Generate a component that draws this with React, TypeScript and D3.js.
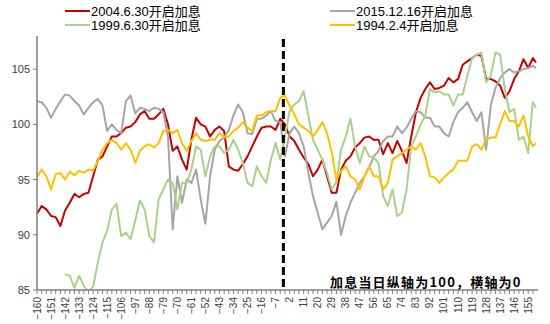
import React from "react";
import * as d3 from "d3";

// x categories: trading days relative to the hike (step 3) plus last day
const days: number[] = [...d3.range(-160, 159, 3), 160];
const tickDays: number[] = d3.range(-160, 159, 3);
const labelDays: number[] = d3.range(-160, 159, 9);
const yTicks: number[] = [85, 90, 95, 100, 105];
const hikeDay = -2;

const seriesNames = ["2004.6.30开启加息", "2015.12.16开启加息", "1999.6.30开启加息", "1994.2.4开启加息"];
const seriesColors = ["#C00000", "#A5A5A5", "#A9D18E", "#FFC000"];

const red2004: (number | null)[] = [
  91.9, 92.6, 92.3, 91.7, 91.6, 90.8, 92.2, 92.9, 93.7, 93.4, 93.7, 93.8, 95.3, 96.8, 97.1, 98.0, 98.9, 98.9, 99.2, 99.7, 99.8, 100.2,
  100.9, 101.2, 100.5, 100.5, 100.9, 101.4, 100.0, 97.6, 98.0, 96.8, 95.9, 98.6, 100.6, 100.0, 99.8, 98.9, 99.5, 99.8, 99.4, 96.2, 95.9,
  95.8, 96.4, 97.1, 98.0, 98.9, 99.7, 99.8, 99.8, 99.5, 100.5, 100.0, 98.9, 98.5, 97.7, 97.0, 96.4, 95.3, 95.9, 96.8, 95.3, 93.8, 93.8,
  95.9, 96.7, 97.1, 97.9, 98.3, 98.8, 98.9, 98.6, 98.6, 97.3, 98.3, 97.4, 98.5, 97.6, 96.5, 98.9, 101.1, 102.4, 103.2, 103.8, 103.2,
  103.3, 103.5, 104.2, 103.8, 104.1, 105.4, 105.7, 106.0, 106.3, 106.2, 104.1, 104.1, 103.9, 103.5, 102.4, 103.0, 104.1, 104.8, 105.9, 105.1, 106.0, 105.6,
];
const gray2015: (number | null)[] = [
  102.1, 102.0, 101.5, 100.6, 101.4, 102.1, 102.7, 102.6, 102.1, 101.7, 100.9, 101.5, 102.0, 102.3, 101.7, 99.4, 100.0, 99.5, 99.2, 102.1, 102.6, 101.0,
  101.5, 101.4, 101.2, 101.5, 101.4, 101.1, 98.9, 90.5, 95.3, 92.9, 95.0, 94.7, 95.9, 93.2, 91.0, 95.3, 97.7, 98.5, 98.8, 99.5, 100.8,
  101.8, 101.1, 99.2, 99.1, 100.5, 100.5, 100.8, 101.2, 100.3, 100.2, 97.1, 99.2, 99.8, 99.2, 98.0, 95.6, 93.5, 92.0, 90.5, 91.1, 91.7, 93.0,
  90.0, 91.7, 92.9, 93.8, 94.7, 95.3, 96.1, 97.1, 97.6, 98.5, 98.9, 98.9, 99.8, 99.2, 99.7, 100.5, 101.2, 101.1, 100.6, 100.6, 99.8,
  99.8, 99.2, 98.9, 100.2, 101.1, 101.5, 102.0, 101.1, 100.3, 101.1, 97.7, 101.7, 103.3, 104.2, 104.7, 105.0, 104.7, 104.8, 105.0, 105.1, 105.3, 105.1,
];
const green1999: (number | null)[] = [
  null, null, null, null, null, null, 86.4, 86.3, 85.2, 86.3, 85.4, 84.8, 85.3, 87.5, 89.3, 90.4, 92.3, 92.8, 89.9, 90.2, 89.6, 91.3,
  93.1, 92.3, 89.9, 89.3, 93.2, 94.1, 95.0, 94.7, 92.3, 94.7, 94.7, 95.9, 98.0, 97.7, 95.3, 97.1, 98.0, 98.0, 97.4, 97.7, 98.6,
  97.7, 96.5, 94.7, 94.4, 96.2, 95.3, 94.7, 96.8, 98.3, 96.8, 98.9, 101.2, 101.8, 102.1, 103.0, 100.8, 98.6, 97.7, 96.8, 95.6, 94.1, 94.8,
  97.7, 98.9, 100.5, 98.0, 96.5, 98.0, 97.1, 97.0, 96.5, 93.5, 92.6, 94.1, 91.7, 92.0, 94.1, 98.0, 98.9, 100.0, 100.8, 103.2, 102.9,
  103.0, 102.7, 102.7, 101.7, 102.7, 102.7, 104.4, 106.0, 106.3, 106.5, 103.8, 104.4, 106.5, 106.3, 103.2, 101.1, 101.4, 98.6, 98.9, 97.4, 102.0, 101.5,
];
const yellow1994: (number | null)[] = [
  95.2, 95.9, 95.3, 94.1, 95.5, 95.6, 95.0, 95.7, 95.4, 95.8, 95.6, 95.9, 95.8, 96.7, 97.7, 98.3, 98.6, 98.3, 97.7, 98.3, 97.7, 96.5,
  97.6, 98.0, 98.2, 97.9, 98.3, 99.4, 99.5, 99.2, 99.5, 98.3, 97.6, 98.5, 99.2, 98.6, 98.5, 98.6, 98.6, 99.2, 98.8, 98.9, 99.4,
  99.7, 100.2, 99.7, 99.4, 100.8, 100.8, 101.1, 101.2, 101.2, 102.4, 102.6, 101.7, 100.9, 100.0, 99.7, 99.4, 98.9, 99.5, 100.2, 99.2, 97.5, 95.0,
  95.8, 96.2, 95.3, 95.0, 94.1, 95.3, 96.2, 95.3, 95.3, 94.1, 94.7, 96.8, 97.1, 97.4, 97.7, 98.0, 97.7, 98.3, 97.1, 95.3, 95.2,
  94.7, 95.2, 95.6, 95.9, 96.7, 96.7, 96.7, 98.0, 98.2, 97.7, 98.6, 98.8, 98.8, 100.0, 101.2, 100.3, 100.3, 99.8, 100.8, 98.9, 98.0, 98.3,
];

const seriesValues = [red2004, gray2015, green1999, yellow1994];

export default function App() {
  const W = 550, H = 324;
  const left = 37, right = 536, top = 36, bottom = 290;
  const x = d3.scaleLinear().domain([-160, 160]).range([left, right]);
  const y = d3.scaleLinear().domain([85, 108]).range([bottom, top]);
  const line = d3
    .line<number | null>()
    .defined((v) => v !== null)
    .x((_, i) => x(days[i]))
    .y((v) => y(v as number));

  const font = "'Liberation Sans', Arial, 'Noto Sans CJK SC', sans-serif";
  const legendPos = [
    { lx: 65, ly: 11 },
    { lx: 330, ly: 11 },
    { lx: 65, ly: 25 },
    { lx: 330, ly: 25 },
  ];

  return (
    <svg width={W} height={H} style={{ position: "absolute", left: 0, top: 0, background: "#fff" }} fontFamily={font}>
      <defs>
        <clipPath id="plot">
          <rect x={left} y={top - 4} width={right - left + 4} height={bottom - top + 4} />
        </clipPath>
      </defs>
      {/* legend */}
      {seriesNames.map((n, i) => (
        <g key={n}>
          <line x1={legendPos[i].lx} x2={legendPos[i].lx + 25} y1={legendPos[i].ly} y2={legendPos[i].ly} stroke={seriesColors[i]} strokeWidth={2} />
          <text x={legendPos[i].lx + 26} y={legendPos[i].ly + 4.5} fontSize={13} fill="#000">
            {n}
          </text>
        </g>
      ))}
      {/* series */}
      <g clipPath="url(#plot)" fill="none" strokeLinejoin="round">
        {seriesValues.map((vals, i) => (
          <path key={i} d={line(vals) || ""} stroke={seriesColors[i]} strokeWidth={2} />
        ))}
      </g>
      {/* dashed hike line */}
      <line x1={x(hikeDay)} x2={x(hikeDay)} y1={top + 3} y2={bottom} stroke="#000" strokeWidth={3} strokeDasharray="8,4" />
      {/* y axis */}
      <line x1={left} x2={left} y1={top} y2={bottom} stroke="#7f7f7f" strokeWidth={1.5} />
      {yTicks.map((t) => (
        <g key={t}>
          <line x1={left - 4} x2={left} y1={y(t)} y2={y(t)} stroke="#7f7f7f" />
          <text x={left - 7} y={y(t) + 4} fontSize={11} textAnchor="end" fill="#404040">
            {t}
          </text>
        </g>
      ))}
      {/* x axis */}
      <line x1={left} x2={right + 2} y1={bottom} y2={bottom} stroke="#7f7f7f" strokeWidth={1.5} />
      {tickDays.map((t) => (
        <line key={t} x1={x(t)} x2={x(t)} y1={bottom} y2={bottom + 4} stroke="#7f7f7f" />
      ))}
      {labelDays.map((t) => (
        <text
          key={t}
          transform={`translate(${x(t) + 3.5},${bottom + 7}) rotate(-90)`}
          fontSize={10}
          textAnchor="end"
          fill="#404040"
        >
          {t < 0 ? "\u2212" + Math.abs(t) : String(t)}
        </text>
      ))}
      <text x={330} y={287} fontSize={13} fontWeight="bold" letterSpacing={1.2} fill="#000" fontFamily="'Noto Sans CJK SC', sans-serif">
        加息当日纵轴为100，横轴为0
      </text>
    </svg>
  );
}
